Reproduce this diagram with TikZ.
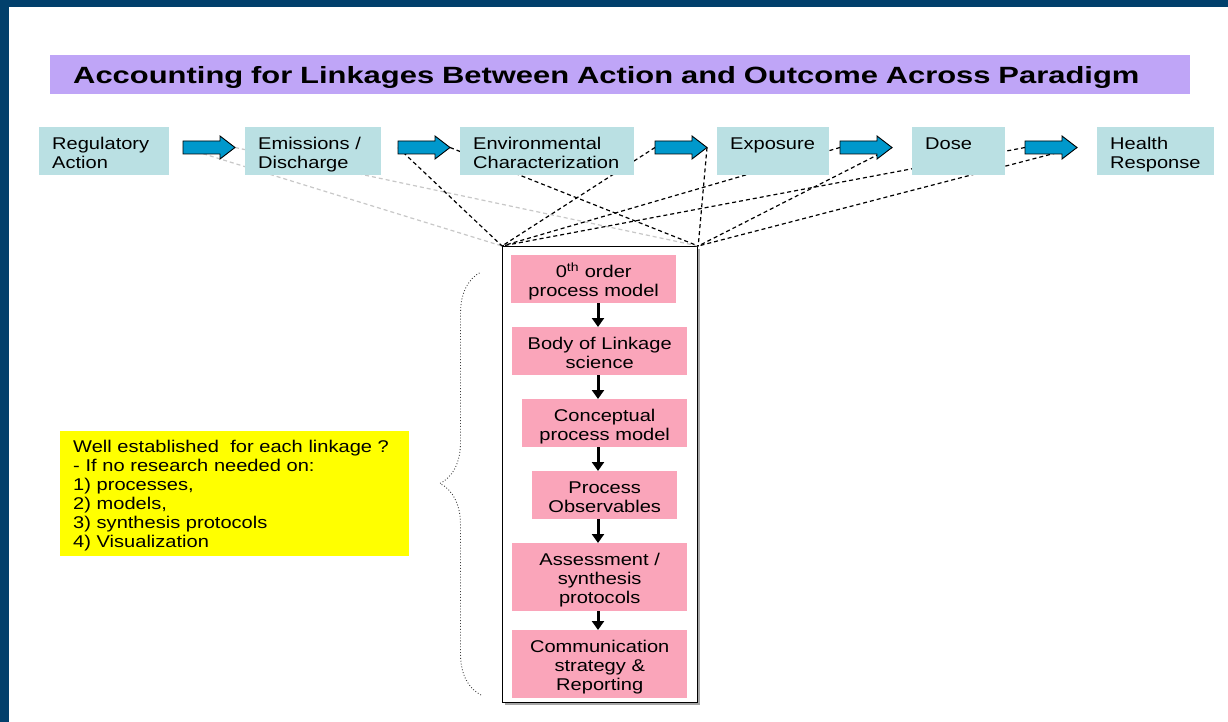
\documentclass[tikz,border=0pt]{standalone}
\usepackage{fontspec}
\setmainfont{Liberation Sans}[FakeStretch=1.18]
\newfontfamily\titlefont{Liberation Sans}[FakeStretch=1.316]
\usetikzlibrary{decorations.pathreplacing,arrows.meta}
\definecolor{frameblue}{RGB}{2,64,108}
\definecolor{titlefill}{RGB}{191,165,247}
\definecolor{cyanfill}{RGB}{186,224,227}
\definecolor{pinkfill}{RGB}{250,165,186}
\definecolor{arrowblue}{RGB}{0,152,204}
\definecolor{graydash}{RGB}{200,200,200}
\definecolor{notefill}{RGB}{255,255,0}
\begin{document}
\begin{tikzpicture}[x=1pt,y=-1pt,
  bodyfont/.style={font=\fontsize{17}{19}\selectfont},
  titlebox/.style={fill=titlefill, anchor=north west, minimum height=39pt, inner xsep=23pt, inner ysep=0pt,
    text width=1094pt, text height=17pt, text depth=0pt, align=left,
    font=\titlefont\bfseries\fontsize{23.5}{28}\selectfont},
  topbox/.style={bodyfont, fill=cyanfill, anchor=north west, inner xsep=13pt, inner ysep=9.5pt,
    text height=12.5pt, text depth=16.5pt, align=left},
  pinkbox/.style={bodyfont, fill=pinkfill, anchor=north west, inner xsep=2pt, inner ysep=9.8pt,
    text height=12.5pt, align=center},
  notebox/.style={bodyfont, fill=notefill, anchor=north west, inner xsep=13pt, inner ysep=8.8pt,
    text height=12.5pt, text depth=94.9pt, text width=323pt, align=left},
  framebox/.style={draw=black, line width=1.2pt, anchor=north west, inner sep=0pt},
  blockarrow/.style={fill=arrowblue, draw=black, line width=0.9pt, line join=miter},
  darkdash/.style={draw=black, dash pattern=on 4pt off 3pt, line width=1.2pt},
  lightdash/.style={draw=graydash, dash pattern=on 4pt off 3pt, line width=1.2pt},
  flowarrow/.style={draw=black, line width=3pt, -{Triangle[width=12pt,length=9pt]}},
  bracestyle/.style={draw=black!75, dotted, line width=0.9pt, decorate, decoration={brace, amplitude=41pt}}
]
\useasboundingbox (0,0) rectangle (1228,722);
\fill[white] (0,0) rectangle (1228,722);
\fill[frameblue] (0,0) rectangle (1228,7);
\fill[frameblue] (0,0) rectangle (9,722);

% title
\node[titlebox] (title) at (50,55) {\mbox{Accounting for Linkages Between Action and Outcome Across Paradigm}};

% central frame (with soft shadow)
\fill[black!35] (505,249) rectangle (700,705);
\node[framebox, fill=white, minimum width=195pt, minimum height=456pt] (frame) at (502,246) {};

% arrow tail / tip points
\foreach \x [count=\i] in {183,398,655,840,1025} {
  \coordinate (t\i) at (\x,147.5);
  \coordinate (h\i) at (\x+52,147.5);
}

% dashed linkage lines
\draw[lightdash] (t1) -- (frame.north west);
\draw[lightdash] (h1) -- (frame.north east);
\foreach \i in {2,3,4,5} {
  \draw[darkdash] (t\i) -- (frame.north west);
  \draw[darkdash] (h\i) -- (frame.north east);
}

% top chain boxes
\node[topbox, text width=104pt] (reg) at (39,127) {Regulatory\\Action};
\node[topbox, text width=110pt] (emi) at (245,127) {Emissions~/\\Discharge};
\node[topbox, text width=148pt] (env) at (460,127) {Environmental\\Characterization};
\node[topbox, text width=86pt] (exp) at (717,127) {Exposure};
\node[topbox, text width=67pt] (dose) at (912,127) {Dose};
\node[topbox, text width=91pt] (hea) at (1097,127) {Health\\Response};

% block arrows
\foreach \x in {183,398,655,840,1025} {
  \draw[blockarrow] (\x,141) -- ++(37,0) -- ++(0,-5) -- ++(15,11.5) -- ++(-15,11.5) -- ++(0,-5) -- ++(-37,0) -- cycle;
}

% pink process boxes
\node[pinkbox, text width=161pt, text depth=15.9pt] (b1) at (511,255) {0\textsuperscript{th} order\\process model};
\node[pinkbox, text width=171pt, text depth=15.9pt] (b2) at (512,327) {Body of Linkage\\science};
\node[pinkbox, text width=161pt, text depth=15.9pt] (b3) at (522,399) {Conceptual\\process model};
\node[pinkbox, text width=141pt, text depth=15.9pt] (b4) at (532,471) {Process\\Observables};
\node[pinkbox, text width=171pt, text depth=35.9pt] (b5) at (512,543) {Assessment /\\synthesis\\protocols};
\node[pinkbox, text width=171pt, text depth=35.9pt] (b6) at (512,630) {Communication\\strategy \&\\Reporting};

\coordinate (ax) at (598,0);
\draw[flowarrow] (b1.south -| ax) -- (b2.north -| ax);
\draw[flowarrow] (b2.south -| ax) -- (b3.north -| ax);
\draw[flowarrow] (b3.south -| ax) -- (b4.north -| ax);
\draw[flowarrow] (b4.south -| ax) -- (b5.north -| ax);
\draw[flowarrow] (b5.south -| ax) -- (b6.north -| ax);

% brace
\coordinate (bracebot) at (481,695);
\coordinate (bracetop) at (481,272);
\draw[bracestyle] (bracebot) -- (bracetop);

% note
\node[notebox] (note) at (60,431) {Well established~ for each linkage ?\\- If no research needed on:\\1) processes,\\2) models,\\3) synthesis protocols\\4) Visualization};
\end{tikzpicture}
\end{document}
